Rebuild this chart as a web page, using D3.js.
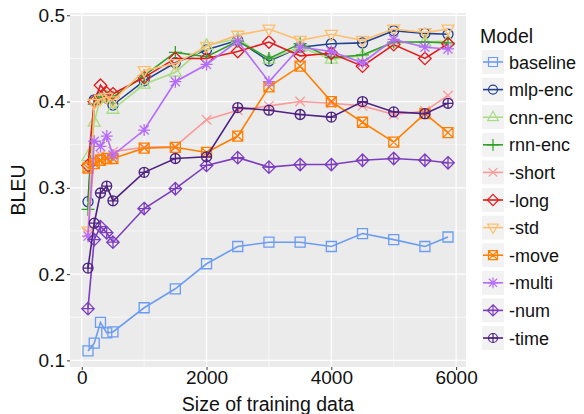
<!DOCTYPE html>
<html lang="en">
<head>
<meta charset="UTF-8">
<title>BLEU vs training size</title>
<script src="https://d3js.org/d3.v7.min.js"></script>
<style>
  body { margin: 0; background: #fff; }
  text { font-family: "Liberation Sans", Arial, sans-serif; }
</style>
</head>
<body>
<svg id="chart" width="584" height="414"></svg>
<script>
// training sizes (x)
var sizes = [100, 200, 300, 400, 500, 1000, 1500, 2000, 2500, 3000, 3500, 4000, 4500, 5000, 5500, 5870];

// BLEU per model
var baseline = [0.111, 0.120, 0.144, 0.132, 0.133, 0.161, 0.183, 0.212, 0.232, 0.237, 0.237, 0.232, 0.247, 0.240, 0.232, 0.243];
var mlpEnc   = [0.284, 0.402, 0.405, 0.404, 0.396, 0.424, 0.445, 0.460, 0.471, 0.447, 0.463, 0.467, 0.468, 0.482, 0.479, 0.478];
var cnnEnc   = [0.336, 0.376, 0.404, 0.405, 0.391, 0.420, 0.434, 0.465, 0.473, 0.449, 0.463, 0.449, 0.453, 0.468, 0.469, 0.470];
var rnnEnc   = [0.275, 0.397, 0.405, 0.405, 0.405, 0.430, 0.457, 0.452, 0.470, 0.450, 0.467, 0.451, 0.454, 0.469, 0.469, 0.468];
var short    = [0.248, 0.335, 0.338, 0.335, 0.342, 0.347, 0.348, 0.379, 0.390, 0.395, 0.400, 0.398, 0.395, 0.385, 0.389, 0.407];
var long     = [0.326, 0.400, 0.419, 0.410, 0.409, 0.428, 0.450, 0.450, 0.458, 0.469, 0.453, 0.456, 0.441, 0.466, 0.450, 0.467];
var std      = [0.250, 0.398, 0.403, 0.405, 0.401, 0.436, 0.444, 0.464, 0.477, 0.484, 0.471, 0.478, 0.471, 0.484, 0.480, 0.484];
var move     = [0.323, 0.328, 0.332, 0.334, 0.334, 0.346, 0.347, 0.341, 0.360, 0.417, 0.441, 0.400, 0.376, 0.353, 0.386, 0.364];
var multi    = [0.244, 0.354, 0.348, 0.360, 0.338, 0.367, 0.423, 0.443, 0.470, 0.423, 0.463, 0.458, 0.445, 0.472, 0.463, 0.461];
var num      = [0.160, 0.240, 0.255, 0.248, 0.237, 0.276, 0.299, 0.326, 0.335, 0.324, 0.327, 0.327, 0.332, 0.334, 0.332, 0.329];
var time     = [0.207, 0.259, 0.294, 0.302, 0.285, 0.318, 0.334, 0.336, 0.393, 0.390, 0.385, 0.382, 0.400, 0.388, 0.386, 0.398];

var models = ["baseline", "mlp-enc", "cnn-enc", "rnn-enc", "-short", "-long", "-std", "-move", "-multi", "-num", "-time"];
var values = [baseline, mlpEnc, cnnEnc, rnnEnc, short, long, std, move, multi, num, time];
var colors = ["#6b9cf2", "#22418e", "#a9dc85", "#33a02c", "#fb9a99", "#e31a1c", "#fdbf6f", "#ff7f00", "#b56cfa", "#7c3dbf", "#4e2282"];
var shapes = ["square", "circle", "triangle", "plus", "cross", "diamond", "triangleDown", "squareCross", "asterisk", "diamondPlus", "circlePlus"];

var xTicks = [0, 2000, 4000, 6000];
var yTicks = [0.1, 0.2, 0.3, 0.4, 0.5];

var svg = d3.select("#chart");
var panel = {left: 70, right: 466, top: 13, bottom: 367};

// ggplot-style 5% expansion
var xExt = d3.extent(sizes), xPad = (xExt[1] - xExt[0]) * 0.05;
var allY = d3.merge(values), yExt = d3.extent(allY), yPad = (yExt[1] - yExt[0]) * 0.05;

var x = d3.scaleLinear().domain([xExt[0] - xPad, xExt[1] + xPad]).range([panel.left, panel.right]);
var y = d3.scaleLinear().domain([yExt[0] - yPad, yExt[1] + yPad]).range([panel.bottom, panel.top]);

// background + grid
svg.append("rect")
    .attr("x", panel.left).attr("y", panel.top)
    .attr("width", panel.right - panel.left).attr("height", panel.bottom - panel.top)
    .attr("fill", "#ebebeb");

var grid = svg.append("g");
[0.15, 0.25, 0.35, 0.45].forEach(function (v) {
    grid.append("line").attr("x1", panel.left).attr("x2", panel.right)
        .attr("y1", y(v)).attr("y2", y(v)).attr("stroke", "#fff").attr("stroke-width", 0.6);
});
[1000, 3000, 5000].forEach(function (v) {
    grid.append("line").attr("y1", panel.top).attr("y2", panel.bottom)
        .attr("x1", x(v)).attr("x2", x(v)).attr("stroke", "#fff").attr("stroke-width", 0.6);
});
yTicks.forEach(function (v) {
    grid.append("line").attr("x1", panel.left).attr("x2", panel.right)
        .attr("y1", y(v)).attr("y2", y(v)).attr("stroke", "#fff").attr("stroke-width", 1.2);
});
xTicks.forEach(function (v) {
    grid.append("line").attr("y1", panel.top).attr("y2", panel.bottom)
        .attr("x1", x(v)).attr("x2", x(v)).attr("stroke", "#fff").attr("stroke-width", 1.2);
});

// axes
var xAxis = svg.append("g").attr("transform", "translate(0," + panel.bottom + ")")
    .call(d3.axisBottom(x).tickValues(xTicks).tickFormat(d3.format("d")).tickSize(3).tickPadding(1));
var yAxis = svg.append("g").attr("transform", "translate(" + panel.left + ",0)")
    .call(d3.axisLeft(y).tickValues(yTicks).tickFormat(d3.format(".1f")).tickSize(3).tickPadding(2));
[xAxis, yAxis].forEach(function (a) {
    a.select(".domain").remove();
    a.selectAll(".tick line").attr("stroke", "#333").attr("stroke-width", 1);
    a.selectAll(".tick text").attr("fill", "#111").style("font-size", "19px")
        .style("font-family", "'Liberation Sans', Arial, sans-serif");
});

svg.append("text").attr("x", (panel.left + panel.right) / 2).attr("y", 411)
    .attr("text-anchor", "middle").style("font-size", "19.5px").attr("fill", "#111")
    .text("Size of training data");
svg.append("text").attr("transform", "translate(25," + ((panel.top + panel.bottom) / 2) + ") rotate(-90)")
    .attr("text-anchor", "middle").style("font-size", "19.5px").attr("fill", "#111")
    .text("BLEU");

// marker shapes
function shapePath(s, r) {
    var p = d3.path();
    var d = r * 1.25, t = r * 1.2;
    function sq() { p.rect(-r, -r, 2 * r, 2 * r); }
    function circ() { p.moveTo(r, 0); p.arc(0, 0, r, 0, 2 * Math.PI); }
    function plus(k) { p.moveTo(-k, 0); p.lineTo(k, 0); p.moveTo(0, -k); p.lineTo(0, k); }
    function cross(k) { p.moveTo(-k, -k); p.lineTo(k, k); p.moveTo(-k, k); p.lineTo(k, -k); }
    function diam() { p.moveTo(0, -d); p.lineTo(d, 0); p.lineTo(0, d); p.lineTo(-d, 0); p.closePath(); }
    if (s === "square") sq();
    else if (s === "circle") circ();
    else if (s === "triangle") { p.moveTo(0, -t * 1.1); p.lineTo(t, t * 0.65); p.lineTo(-t, t * 0.65); p.closePath(); }
    else if (s === "triangleDown") { p.moveTo(0, t * 1.1); p.lineTo(t, -t * 0.65); p.lineTo(-t, -t * 0.65); p.closePath(); }
    else if (s === "plus") plus(r * 1.3);
    else if (s === "cross") cross(r * 0.95);
    else if (s === "diamond") diam();
    else if (s === "squareCross") { sq(); cross(r); }
    else if (s === "asterisk") { plus(r * 1.2); cross(r * 0.9); }
    else if (s === "diamondPlus") { diam(); plus(d); }
    else if (s === "circlePlus") { circ(); plus(r); }
    return p.toString();
}

var line = d3.line().x(function (d) { return x(d[0]); }).y(function (d) { return y(d[1]); });

models.forEach(function (m, i) {
    var pts = sizes.map(function (s, j) { return [s, values[i][j]]; });
    var g = svg.append("g");
    g.append("path").datum(pts).attr("d", line)
        .attr("fill", "none").attr("stroke", colors[i]).attr("stroke-width", 1.6);
    g.selectAll("path.pt").data(pts).enter().append("path").attr("class", "pt")
        .attr("transform", function (d) { return "translate(" + x(d[0]) + "," + y(d[1]) + ")"; })
        .attr("d", shapePath(shapes[i], 5))
        .attr("fill", "none").attr("stroke", colors[i]).attr("stroke-width", 1.3);
});

// legend
var leg = svg.append("g");
leg.append("text").attr("x", 480).attr("y", 43).style("font-size", "19.5px").attr("fill", "#111").text("Model");
models.forEach(function (m, i) {
    var cy = 62 + i * 27.6;
    var row = leg.append("g").attr("transform", "translate(0," + cy + ")");
    row.append("rect").attr("x", 482).attr("y", -12).attr("width", 22).attr("height", 24).attr("fill", "#f2f2f2");
    row.append("line").attr("x1", 483).attr("x2", 503).attr("y1", 0).attr("y2", 0)
        .attr("stroke", colors[i]).attr("stroke-width", 1.6);
    row.append("path").attr("transform", "translate(493,0)").attr("d", shapePath(shapes[i], 4.5))
        .attr("fill", "none").attr("stroke", colors[i]).attr("stroke-width", 1.2);
    row.append("text").attr("x", 509).attr("y", 6.5).style("font-size", "18px").attr("fill", "#111").text(m);
});
</script>
</body>
</html>
